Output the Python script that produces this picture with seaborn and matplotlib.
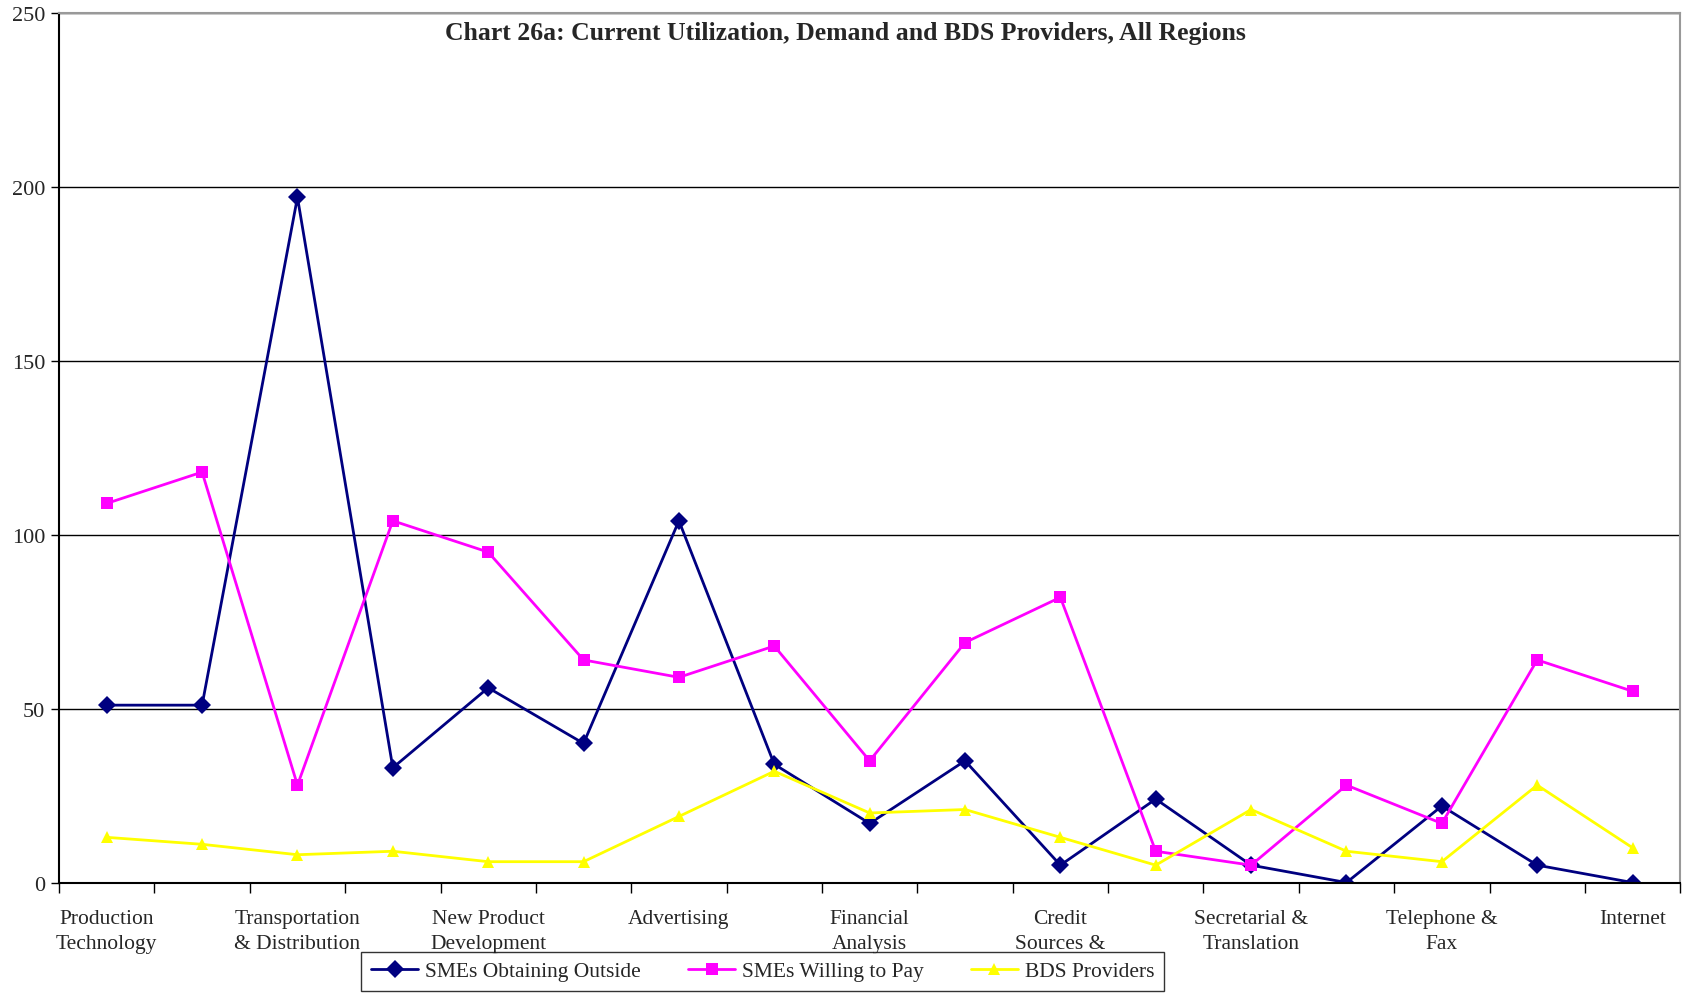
import pandas as pd
import numpy as np
import matplotlib.pyplot as plt
import seaborn as sns

# category labels (Excel only shows every other one)
tick_labels = ["Production\nTechnology", "", "Transportation\n& Distribution", "",
               "New Product\nDevelopment", "", "Advertising", "",
               "Financial\nAnalysis", "", "Credit\nSources &", "",
               "Secretarial &\nTranslation", "", "Telephone &\nFax", "", "Internet"]

obtaining_outside = [51, 51, 197, 33, 56, 40, 104, 34, 17, 35, 5, 24, 5, 0, 22, 5, 0]
willing_to_pay = [109, 118, 28, 104, 95, 64, 59, 68, 35, 69, 82, 9, 5, 28, 17, 64, 55]
bds_providers = [13, 11, 8, 9, 6, 6, 19, 32, 20, 21, 13, 5, 21, 9, 6, 28, 10]

series_names = ["SMEs Obtaining Outside", "SMEs Willing to Pay", "BDS Providers"]

pos = np.arange(len(tick_labels))
df = pd.DataFrame({
    "pos": np.tile(pos, 3),
    "value": obtaining_outside + willing_to_pay + bds_providers,
    "series": np.repeat(series_names, len(pos)),
})

sns.set_style("white")
plt.rcParams['font.family'] = ['Liberation Serif', 'DejaVu Serif']

fig = plt.figure(figsize=(16.87, 9.95), dpi=100)
ax = fig.add_axes([0.035, 0.112, 0.961, 0.874])

sns.lineplot(data=df, x="pos", y="value", hue="series", style="series",
             palette=["#000080", "#FF00FF", "#FFFF00"],
             markers=["D", "s", "^"], dashes=False, markersize=9,
             linewidth=2, markeredgewidth=0, ax=ax, legend=True)

ax.set_xlim(-0.5, len(pos) - 0.5)
ax.set_ylim(0, 250)
ax.set_yticks([0, 50, 100, 150, 200, 250])
ax.yaxis.grid(True, color="black", linewidth=1)
ax.set_axisbelow(True)

# ticks between categories, labels at category centers
ax.set_xticks(np.arange(-0.5, len(pos), 1.0))
ax.set_xticklabels([])
ax.set_xticks(pos, minor=True)
ax.set_xticklabels(tick_labels, minor=True, fontsize=15.5, linespacing=1.45)
ax.tick_params(axis="x", which="major", direction="out", length=7, width=1, color="black", bottom=True)
ax.tick_params(axis="x", which="minor", length=0, pad=19)
ax.tick_params(axis="y", direction="out", length=6, width=1, color="black", left=True, labelsize=16, pad=4)

ax.set_xlabel("")
ax.set_ylabel("")
for s in ["left", "bottom"]:
    ax.spines[s].set_color("black")
    ax.spines[s].set_linewidth(1.5)
for s in ["top", "right"]:
    ax.spines[s].set_color("#999999")
    ax.spines[s].set_linewidth(1.5)

ax.text(0.485, 0.978, "Chart 26a: Current Utilization, Demand and BDS Providers, All Regions",
        transform=ax.transAxes, ha="center", va="center", fontsize=18.5, fontweight="bold")

handles, labels = ax.get_legend_handles_labels()
ax.legend_.remove()
leg = fig.legend(handles, labels, loc="lower center", bbox_to_anchor=(0.452, 0.003),
                 borderaxespad=0, ncol=3, fontsize=15.5, frameon=True, fancybox=False,
                 edgecolor="black", handlelength=2.2, handletextpad=0.3,
                 columnspacing=2.2, borderpad=0.45)
leg.get_frame().set_linewidth(1)

fig.savefig("out.png", dpi=100)
